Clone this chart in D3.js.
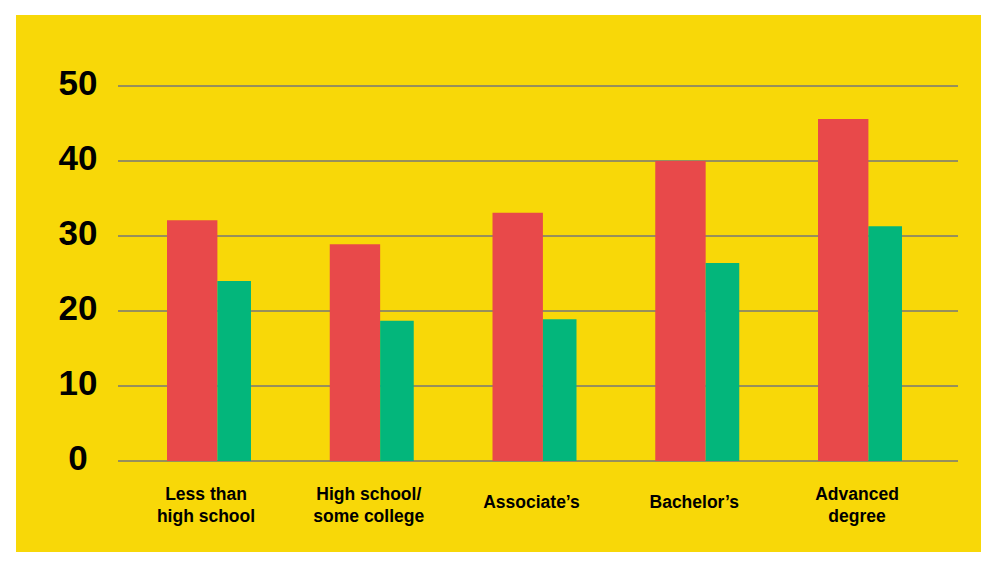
<!DOCTYPE html>
<html lang="en">
<head>
    <meta charset="UTF-8">
    <title>Grouped bars by education</title>
    <script src="https://d3js.org/d3.v7.min.js"></script>
    <style>
        body {
            margin: 0;
            background: #fff;
        }
        text {
            font-family: "Liberation Sans", Arial, sans-serif;
            font-weight: bold;
            fill: #000;
        }
        .grid line {
            stroke: #777;
            stroke-width: 1.4px;
        }
    </style>
</head>
<body>
    <script>
        const width = 997;
        const height = 568;

        // Data
        const categories = [
            ["Less than", "high school"],
            ["High school/", "some college"],
            ["Associate’s"],
            ["Bachelor’s"],
            ["Advanced", "degree"]
        ];
        const redValues = [32.1, 28.9, 33.1, 40.0, 45.6];
        const greenValues = [24.0, 18.7, 18.9, 26.4, 31.3];
        const yTicks = [0, 10, 20, 30, 40, 50];

        const svg = d3.select("body").append("svg")
            .attr("width", width)
            .attr("height", height);

        // Yellow panel
        svg.append("rect")
            .attr("x", 16)
            .attr("y", 15)
            .attr("width", 965)
            .attr("height", 537)
            .attr("fill", "#f8d808");

        const gridLeft = 118, gridRight = 958;
        const y = d3.scaleLinear()
            .domain([0, 50])
            .range([461, 86]);

        const keys = categories.map(d => d.join(" "));
        const x = d3.scaleBand()
            .domain(keys)
            .range([167, 902])
            .paddingInner(0.484)
            .paddingOuter(0);

        // Gridlines
        svg.append("g")
            .attr("class", "grid")
            .selectAll("line")
            .data(yTicks)
            .enter().append("line")
            .attr("x1", gridLeft)
            .attr("x2", gridRight)
            .attr("y1", d => y(d))
            .attr("y2", d => y(d));

        // Y labels
        svg.append("g")
            .selectAll("text")
            .data(yTicks)
            .enter().append("text")
            .attr("x", 78)
            .attr("y", d => y(d) + 9)
            .attr("text-anchor", "middle")
            .attr("font-size", 35)
            .text(d => d);

        const bw = x.bandwidth();
        const redW = bw * 0.6;

        svg.append("g")
            .selectAll("rect")
            .data(redValues)
            .enter().append("rect")
            .attr("x", (d, i) => x(keys[i]))
            .attr("y", d => y(d))
            .attr("width", redW)
            .attr("height", d => y(0) - y(d))
            .attr("fill", "#e8494a");

        svg.append("g")
            .selectAll("rect")
            .data(greenValues)
            .enter().append("rect")
            .attr("x", (d, i) => x(keys[i]) + redW)
            .attr("y", d => y(d))
            .attr("width", bw - redW)
            .attr("height", d => y(0) - y(d))
            .attr("fill", "#03b67b");

        // Category labels (one or two lines)
        const labels = svg.append("g")
            .selectAll("text")
            .data(categories)
            .enter().append("text")
            .attr("text-anchor", "middle")
            .attr("font-size", 17.5)
            .attr("transform", (d, i) => `translate(${x(keys[i]) + bw / 2 - 3}, ${d.length > 1 ? 500 : 508})`);

        labels.selectAll("tspan")
            .data(d => d)
            .enter().append("tspan")
            .attr("x", 0)
            .attr("dy", (d, i) => i === 0 ? 0 : 21.5)
            .text(d => d);
    </script>
</body>
</html>
